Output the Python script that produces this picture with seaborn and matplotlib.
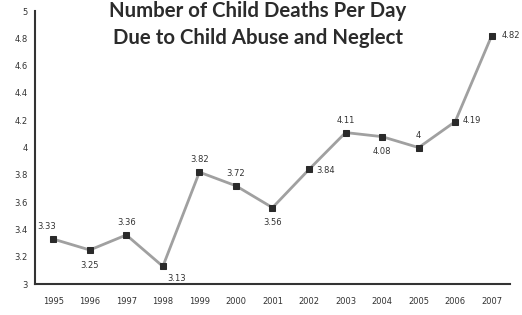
import matplotlib
matplotlib.use("Agg")
import matplotlib.pyplot as plt
import seaborn as sns
import pandas as pd

years = ["1995", "1996", "1997", "1998", "1999", "2000", "2001",
         "2002", "2003", "2004", "2005", "2006", "2007"]
deaths = [3.33, 3.25, 3.36, 3.13, 3.82, 3.72, 3.56, 3.84, 4.11, 4.08, 4.00, 4.19, 4.82]
value_labels = ["3.33", "3.25", "3.36", "3.13", "3.82", "3.72", "3.56",
                "3.84", "4.11", "4.08", "4", "4.19", "4.82"]
y_ticks = [3, 3.2, 3.4, 3.6, 3.8, 4, 4.2, 4.4, 4.6, 4.8, 5]
y_tick_labels = ["3", "3.2", "3.4", "3.6", "3.8", "4", "4.2", "4.4", "4.6", "4.8", "5"]
title_lines = ["Number of Child Deaths Per Day", "Due to Child Abuse and Neglect"]

# label offsets in points (style only)
offsets = [(-5, 9), (0, -11), (0, 9), (10, -9), (0, 9), (0, 9), (0, -11),
           (12, -1), (0, 9), (0, -11), (0, 9), (12, 1), (14, 0)]

df = pd.DataFrame({"year": years, "deaths": deaths})

sns.set_style("white")
plt.rcParams['font.family'] = ['DejaVu Sans']

fig = plt.figure(figsize=(5.22, 3.15), dpi=100)
ax = fig.add_axes([0.067, 0.098, 0.91, 0.867])

sns.lineplot(data=df, x="year", y="deaths", sort=False, ax=ax,
             color="#a0a0a0", linewidth=2.0, marker="s", markersize=4.5,
             markerfacecolor="#2a2a2a", markeredgecolor="#2a2a2a")

for i, (v, lab) in enumerate(zip(deaths, value_labels)):
    ax.annotate(lab, (i, v), xytext=offsets[i], textcoords="offset points",
                ha="center", va="center", fontsize=6, color="#333333")

ax.set_xlim(-0.5, len(years) - 0.5)
ax.set_ylim(3, 5)
ax.set_yticks(y_ticks)
ax.set_yticklabels(y_tick_labels)
ax.set_xticks(range(len(years)))
ax.set_xticklabels(years)
ax.set_xticks([i - 0.5 for i in range(len(years) + 1)], minor=True)
ax.tick_params(axis="x", which="major", length=0, labelsize=6, colors="#333333", pad=9)
ax.tick_params(axis="x", which="minor", length=4, width=1, color="#333333", direction="inout")
ax.tick_params(axis="y", length=3, width=1, labelsize=6, colors="#333333", direction="out", pad=2)
ax.set_xlabel("")
ax.set_ylabel("")
sns.despine(ax=ax)
for s in ["left", "bottom"]:
    ax.spines[s].set_color("#333333")
    ax.spines[s].set_linewidth(1.5)

# title, two lines, sized so the second line spans ~290 px
H = 315.0
cx = 258 / 522.0
t1 = fig.text(cx, 1 - 17 / H, title_lines[0], ha="center", va="baseline",
              fontsize=15, fontfamily="Lato", fontweight="bold", color="#2b2b2b")
t2 = fig.text(cx, 1 - 44 / H, title_lines[1], ha="center", va="baseline",
              fontsize=15, fontfamily="Lato", fontweight="bold", color="#2b2b2b")
fig.canvas.draw()
r = fig.canvas.get_renderer()
w = t2.get_window_extent(r).width
fs = 15 * 290.0 / w
t1.set_fontsize(fs)
t2.set_fontsize(fs)

fig.savefig("out.png", dpi=100, facecolor="white")
